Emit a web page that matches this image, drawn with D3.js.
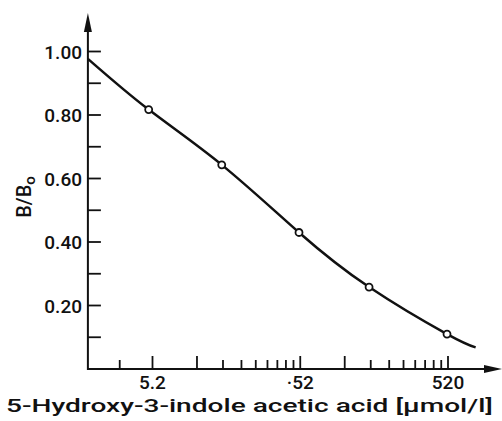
<!DOCTYPE html>
<html>
<head>
<meta charset="utf-8">
<script src="https://cdn.jsdelivr.net/npm/d3@7"></script>
<style>
	body { margin: 0; background: white; }
	svg { display: block; }
	text { font-family: Roboto, "DejaVu Sans", sans-serif; font-weight: 500; fill: #111; }
</style>
</head>
<body>
<div id="chart"></div>
<script>

// measured points (concentration in umol/l, B/Bo)
var pointX = [4.9, 15.3, 51, 152, 512];
var pointY = [0.817, 0.643, 0.43, 0.258, 0.11];

// fitted curve
var curveX = [1.9, 4.9, 15.3, 51, 152, 512, 800];
var curveY = [0.977, 0.817, 0.643, 0.43, 0.258, 0.11, 0.068];

// axis ticks
var xMajorTicks = [5.2, 10.4, 52, 104, 520];
var xMinorTicks = [3.12, 15.6, 20.8, 26, 31.2, 36.4, 41.6, 46.8, 156, 208, 260, 312, 364, 416, 468];
var xTickLabels = [[5.2, '5.2'], [52, '\u00b752'], [520, '520']];
var yTicks = [0.1, 0.2, 0.3, 0.4, 0.5, 0.6, 0.7, 0.8, 0.9, 1.0];
var yTickLabels = ['0.20', '0.40', '0.60', '0.80', '1.00'];
var xTitle = '5-Hydroxy-3-indole acetic acid [\u00b5mol/l]';

var width = 502;
var height = 421;

var x = d3.scaleLog().domain([5.2, 520]).range([152.5, 448]);
var y = d3.scaleLinear().domain([0, 1]).range([369, 51.5]);
var x0 = x(1.9);

var svg = d3.select('#chart').append('svg')
	.attr('width', width)
	.attr('height', height);

var g = svg.append('g');

// axes lines
g.append('line')
	.attr('x1', x0).attr('x2', 486)
	.attr('y1', y(0)).attr('y2', y(0))
	.attr('stroke', '#111').attr('stroke-width', 2);

g.append('line')
	.attr('x1', x0).attr('x2', x0)
	.attr('y1', y(0) + 1).attr('y2', 30)
	.attr('stroke', '#111').attr('stroke-width', 2);

// arrow heads
g.append('path')
	.attr('d', 'M484,' + (y(0) - 4) + 'L502,' + y(0) + 'L484,' + (y(0) + 4) + 'Z')
	.attr('fill', '#111');

g.append('path')
	.attr('d', 'M' + (x0 - 4) + ',32L' + x0 + ',13L' + (x0 + 4) + ',32Z')
	.attr('fill', '#111');

// x ticks
g.selectAll('.xmajor').data(xMajorTicks).enter().append('line')
	.attr('class', 'xmajor')
	.attr('x1', function(d) {return x(d)}).attr('x2', function(d) {return x(d)})
	.attr('y1', y(0)).attr('y2', y(0) - 13)
	.attr('stroke', '#111').attr('stroke-width', 1.8);

g.selectAll('.xminor').data(xMinorTicks).enter().append('line')
	.attr('class', 'xminor')
	.attr('x1', function(d) {return x(d)}).attr('x2', function(d) {return x(d)})
	.attr('y1', y(0)).attr('y2', y(0) - 9)
	.attr('stroke', '#111').attr('stroke-width', 1.8);

g.selectAll('.xlabel').data(xTickLabels).enter().append('text')
	.attr('class', 'xlabel')
	.attr('text-anchor', 'middle')
	.attr('x', function(d) {return x(d[0])})
	.attr('y', 389)
	.attr('font-size', '19px')
	.text(function(d) {return d[1]});

// y ticks
g.selectAll('.ytick').data(yTicks).enter().append('line')
	.attr('class', 'ytick')
	.attr('x1', x0).attr('x2', x0 + 13)
	.attr('y1', function(d) {return y(d)}).attr('y2', function(d) {return y(d)})
	.attr('stroke', '#111').attr('stroke-width', 1.8);

g.selectAll('.ylabel').data(yTickLabels).enter().append('text')
	.attr('class', 'ylabel')
	.attr('text-anchor', 'end')
	.attr('x', 82)
	.attr('y', function(d) {return y(+d) + 7})
	.attr('font-size', '19px')
	.text(function(d) {return d});

// titles
g.append('text')
	.attr('x', 6)
	.attr('y', 412)
	.attr('font-size', '19px')
	.attr('textLength', 487)
	.attr('lengthAdjust', 'spacingAndGlyphs')
	.text(xTitle);

var yt = g.append('text')
	.attr('transform', 'translate(31,197) rotate(-90)')
	.attr('text-anchor', 'middle')
	.attr('font-size', '20px');
yt.append('tspan').text('B/B');
yt.append('tspan').attr('font-size', '15px').attr('dy', 4).text('o');

// curve
var line = d3.line()
	.x(function(d) {return x(d[0])})
	.y(function(d) {return y(d[1])})
	.curve(d3.curveNatural);

g.append('path')
	.datum(d3.zip(curveX, curveY))
	.attr('d', line)
	.attr('fill', 'none')
	.attr('stroke', '#111')
	.attr('stroke-width', 2.5);

// points
g.selectAll('.pt').data(d3.zip(pointX, pointY)).enter().append('circle')
	.attr('class', 'pt')
	.attr('cx', function(d) {return x(d[0])})
	.attr('cy', function(d) {return y(d[1])})
	.attr('r', 3.5)
	.attr('fill', 'white')
	.attr('stroke', '#111')
	.attr('stroke-width', 1.8);

</script>
</body>
</html>
